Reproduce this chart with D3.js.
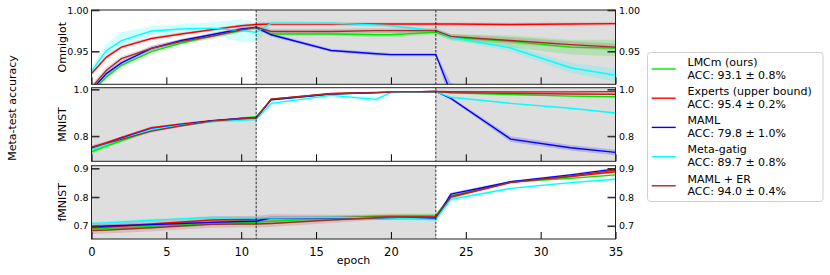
<!DOCTYPE html>
<html>
<head>
<meta charset="utf-8">
<script src="https://cdn.jsdelivr.net/npm/d3@7"></script>
<style>
  body { margin: 0; background: #fff; }
  text { font-family: "DejaVu Sans", sans-serif; fill: #000; }
</style>
</head>
<body>
<svg width="830" height="275"></svg>
<script>
// evaluation epochs (shared by every series)
var epochs = [0, 1, 2, 4, 6, 8, 10, 11, 12, 16, 19, 20, 23, 24, 28, 32, 35];
var taskSwitch = [11, 23];
var xTicks = [0, 5, 10, 15, 20, 25, 30, 35];

var methods = ["LMCm (ours)", "Experts (upper bound)", "MAML", "Meta-gatig", "MAML + ER"];
var accText = ["ACC: 93.1 \u00b1 0.8%", "ACC: 95.4 \u00b1 0.2%", "ACC: 79.8 \u00b1 1.0%", "ACC: 89.7 \u00b1 0.8%", "ACC: 94.0 \u00b1 0.4%"];
var colors = ["#00e600", "#ff0000", "#0000ff", "#00ffff", "#a52a2a"];

// Omniglot
var omniMean = [
  [0.900, 0.919, 0.933, 0.9495, 0.960, 0.968, 0.975, 0.979, 0.971, 0.971, 0.970, 0.970, 0.973, 0.967, 0.962, 0.955, 0.954],
  [0.923, 0.943, 0.955, 0.9655, 0.971, 0.976, 0.981, 0.9825, 0.983, 0.983, 0.983, 0.983, 0.983, 0.983, 0.9825, 0.983, 0.9835],
  [0.903, 0.923, 0.936, 0.9535, 0.963, 0.970, 0.977, 0.979, 0.970, 0.951, 0.947, 0.946, 0.946, 0.900, 0.880, 0.870, 0.860],
  [0.926, 0.951, 0.963, 0.9745, 0.977, 0.978, 0.975, 0.973, 0.984, 0.984, 0.982, 0.981, 0.975, 0.967, 0.954, 0.930, 0.921],
  [0.906, 0.927, 0.941, 0.9535, 0.962, 0.968, 0.976, 0.979, 0.974, 0.974, 0.975, 0.975, 0.975, 0.968, 0.963, 0.958, 0.955]
];
var omniSd = [
  [0.003, 0.003, 0.003, 0.003, 0.002, 0.002, 0.002, 0.002, 0.002, 0.002, 0.003, 0.003, 0.003, 0.004, 0.007, 0.009, 0.010],
  [0.002, 0.002, 0.002, 0.002, 0.002, 0.002, 0.002, 0.002, 0.002, 0.002, 0.002, 0.002, 0.002, 0.002, 0.002, 0.002, 0.002],
  [0.003, 0.003, 0.003, 0.003, 0.002, 0.002, 0.002, 0.002, 0.002, 0.002, 0.002, 0.002, 0.002, 0.012, 0.010, 0.010, 0.010],
  [0.005, 0.008, 0.010, 0.006, 0.006, 0.007, 0.014, 0.012, 0.003, 0.002, 0.002, 0.002, 0.002, 0.003, 0.004, 0.006, 0.008],
  [0.004, 0.004, 0.003, 0.003, 0.003, 0.003, 0.003, 0.003, 0.003, 0.003, 0.003, 0.003, 0.003, 0.003, 0.004, 0.004, 0.004]
];

// MNIST
var mnistMean = [
  [0.733, 0.757, 0.780, 0.826, 0.846, 0.862, 0.877, 0.883, 0.955, 0.980, 0.985, 0.987, 0.990, 0.985, 0.978, 0.971, 0.968],
  [0.750, 0.772, 0.794, 0.836, 0.852, 0.866, 0.875, 0.878, 0.958, 0.982, 0.987, 0.988, 0.991, 0.990, 0.989, 0.989, 0.990],
  [0.747, 0.768, 0.790, 0.830, 0.849, 0.865, 0.875, 0.878, 0.955, 0.980, 0.986, 0.988, 0.991, 0.961, 0.787, 0.750, 0.730],
  [0.743, 0.765, 0.787, 0.828, 0.846, 0.862, 0.868, 0.871, 0.940, 0.974, 0.957, 0.986, 0.990, 0.966, 0.940, 0.919, 0.899],
  [0.752, 0.769, 0.786, 0.821, 0.844, 0.864, 0.874, 0.877, 0.958, 0.981, 0.986, 0.988, 0.991, 0.986, 0.983, 0.980, 0.979]
];
var mnistSd = [
  [0.012, 0.010, 0.008, 0.006, 0.005, 0.005, 0.004, 0.004, 0.003, 0.002, 0.002, 0.002, 0.002, 0.003, 0.003, 0.003, 0.003],
  [0.006, 0.005, 0.005, 0.005, 0.004, 0.004, 0.004, 0.004, 0.002, 0.002, 0.002, 0.002, 0.002, 0.002, 0.002, 0.002, 0.002],
  [0.006, 0.005, 0.005, 0.005, 0.004, 0.004, 0.004, 0.004, 0.002, 0.002, 0.002, 0.002, 0.002, 0.006, 0.012, 0.012, 0.012],
  [0.008, 0.007, 0.006, 0.006, 0.005, 0.005, 0.005, 0.005, 0.006, 0.004, 0.012, 0.003, 0.002, 0.003, 0.003, 0.003, 0.003],
  [0.010, 0.009, 0.008, 0.007, 0.005, 0.004, 0.004, 0.004, 0.002, 0.002, 0.002, 0.002, 0.002, 0.002, 0.002, 0.002, 0.002]
];

// fMNIST
var fmnistMean = [
  [0.689, 0.691, 0.693, 0.698, 0.703, 0.708, 0.711, 0.712, 0.716, 0.726, 0.733, 0.735, 0.737, 0.803, 0.853, 0.865, 0.877],
  [0.693, 0.696, 0.699, 0.706, 0.713, 0.720, 0.722, 0.723, 0.728, 0.728, 0.730, 0.731, 0.731, 0.801, 0.851, 0.871, 0.888],
  [0.697, 0.699, 0.701, 0.704, 0.708, 0.712, 0.715, 0.716, 0.728, 0.728, 0.727, 0.727, 0.726, 0.810, 0.853, 0.877, 0.898],
  [0.708, 0.710, 0.713, 0.719, 0.724, 0.729, 0.728, 0.727, 0.728, 0.729, 0.728, 0.727, 0.722, 0.792, 0.830, 0.850, 0.862],
  [0.683, 0.685, 0.688, 0.693, 0.699, 0.705, 0.706, 0.706, 0.708, 0.720, 0.728, 0.730, 0.731, 0.800, 0.851, 0.873, 0.894]
];
var fmnistSd = [
  [0.008, 0.008, 0.008, 0.008, 0.008, 0.008, 0.008, 0.008, 0.008, 0.008, 0.008, 0.008, 0.006, 0.006, 0.004, 0.004, 0.004],
  [0.012, 0.012, 0.012, 0.012, 0.012, 0.012, 0.012, 0.012, 0.012, 0.010, 0.008, 0.008, 0.006, 0.006, 0.004, 0.004, 0.004],
  [0.006, 0.006, 0.006, 0.006, 0.006, 0.006, 0.006, 0.006, 0.006, 0.006, 0.006, 0.006, 0.006, 0.006, 0.004, 0.004, 0.004],
  [0.006, 0.006, 0.006, 0.006, 0.006, 0.006, 0.006, 0.006, 0.006, 0.006, 0.006, 0.006, 0.006, 0.008, 0.004, 0.004, 0.004],
  [0.012, 0.012, 0.012, 0.012, 0.012, 0.012, 0.012, 0.012, 0.012, 0.010, 0.008, 0.008, 0.006, 0.006, 0.004, 0.004, 0.004]
];

var panelNames = ["Omniglot", "MNIST", "fMNIST"];
var panelMeans = [omniMean, mnistMean, fmnistMean];
var panelSds = [omniSd, mnistSd, fmnistSd];
var panelDomains = [[0.91, 1.0], [0.692, 1.007], [0.654, 0.909]];
var panelYTicks = [[0.95, 1.00], [0.8, 1.0], [0.7, 0.8, 0.9]];
var panelYFormat = [".2f", ".1f", ".1f"];
// shaded (already-seen / future task) spans per panel
var panelShade = [[[11, 35]], [[0, 11], [23, 35]], [[0, 23]]];

window.addEventListener("load", main);

function main() {
  var svg = d3.select("svg");
  var left = 91.5, right = 615.5;
  var panelBox = [[10, 84.3], [87.7, 161.3], [165.7, 239]];

  var x = d3.scaleLinear().domain([0, 35]).range([left, right]);

  panelNames.forEach(function(name, p) {
    var top = panelBox[p][0], bottom = panelBox[p][1];
    var y = d3.scaleLinear().domain(panelDomains[p]).range([bottom, top]);
    var g = svg.append("g");

    g.append("clipPath").attr("id", "clip" + p)
      .append("rect")
      .attr("x", left).attr("y", top)
      .attr("width", right - left).attr("height", bottom - top);

    var plot = g.append("g").attr("clip-path", "url(#clip" + p + ")");

    plot.selectAll("rect.shade")
      .data(panelShade[p])
      .enter().append("rect")
      .attr("class", "shade")
      .attr("x", function(d) { return x(d[0]); })
      .attr("width", function(d) { return x(d[1]) - x(d[0]); })
      .attr("y", top).attr("height", bottom - top)
      .attr("fill", "#dedede");

    var means = panelMeans[p], sds = panelSds[p];

    var area = d3.area()
      .x(function(d, i) { return x(epochs[i]); })
      .y0(function(d) { return y(d[0] - d[1]); })
      .y1(function(d) { return y(d[0] + d[1]); });

    var line = d3.line()
      .x(function(d, i) { return x(epochs[i]); })
      .y(function(d) { return y(d); });

    means.forEach(function(m, s) {
      var pts = m.map(function(v, i) { return [v, sds[s][i]]; });
      plot.append("path")
        .attr("d", area(pts))
        .attr("fill", colors[s])
        .attr("fill-opacity", 0.18)
        .attr("stroke", "none");
    });

    means.forEach(function(m, s) {
      plot.append("path")
        .attr("d", line(m))
        .attr("fill", "none")
        .attr("stroke", colors[s])
        .attr("stroke-width", 1.4);
    });

    // task switch markers
    g.selectAll("line.switch")
      .data(taskSwitch)
      .enter().append("line")
      .attr("x1", function(d) { return x(d); })
      .attr("x2", function(d) { return x(d); })
      .attr("y1", top).attr("y2", bottom)
      .attr("stroke", "#000")
      .attr("stroke-width", 0.8)
      .attr("stroke-dasharray", "2.5,1.5");

    // inward ticks
    var xAxis = d3.axisBottom(x).tickValues(xTicks).tickSizeInner(-7).tickSizeOuter(0)
      .tickFormat(p === 2 ? d3.format("d") : "");
    var xa = g.append("g").attr("transform", "translate(0," + bottom + ")").call(xAxis);
    xa.select(".domain").remove();
    xa.selectAll(".tick line").attr("stroke", "#000").attr("stroke-width", 1);
    xa.selectAll(".tick text")
      .attr("y", 9)
      .attr("dy", "0.71em")
      .style("font-family", "DejaVu Sans")
      .style("font-size", "11.5px");

    var yl = d3.axisLeft(y).tickValues(panelYTicks[p]).tickSizeInner(-8).tickSizeOuter(0)
      .tickPadding(4).tickFormat(d3.format(panelYFormat[p]));
    var ya = g.append("g").attr("transform", "translate(" + left + ",0)").call(yl);
    var yr = d3.axisRight(y).tickValues(panelYTicks[p]).tickSizeInner(-8).tickSizeOuter(0)
      .tickPadding(4).tickFormat(d3.format(panelYFormat[p]));
    var yra = g.append("g").attr("transform", "translate(" + right + ",0)").call(yr);
    [ya, yra].forEach(function(a) {
      a.select(".domain").remove();
      a.selectAll(".tick line").attr("stroke", "#333").attr("stroke-width", 1.6);
      a.selectAll(".tick text")
        .style("font-family", "DejaVu Sans")
        .style("font-size", "9.5px");
    });
    ya.selectAll(".tick text").attr("x", -3);
    yra.selectAll(".tick text").attr("x", 3.5);

    g.append("rect")
      .attr("x", left).attr("y", top)
      .attr("width", right - left).attr("height", bottom - top)
      .attr("fill", "none")
      .attr("stroke", "#222")
      .attr("stroke-width", 1);

    g.append("text")
      .attr("transform", "translate(66," + ((top + bottom) / 2) + ") rotate(-90)")
      .attr("text-anchor", "middle")
      .style("font-size", "11px")
      .text(name);
  });

  svg.append("text")
    .attr("transform", "translate(16,108) rotate(-90)")
    .attr("text-anchor", "middle")
    .style("font-size", "11px")
    .text("Meta-test accuracy");

  svg.append("text")
    .attr("x", x(17.5)).attr("y", 263.5)
    .attr("text-anchor", "middle")
    .style("font-size", "11px")
    .text("epoch");

  // legend
  var leg = svg.append("g");
  leg.append("rect")
    .attr("x", 647.5).attr("y", 52.5)
    .attr("width", 175.5).attr("height", 149)
    .attr("rx", 3)
    .attr("fill", "#fff")
    .attr("stroke", "#d0d0d0")
    .attr("stroke-width", 1);

  var item = leg.selectAll("g.item")
    .data(methods)
    .enter().append("g")
    .attr("class", "item")
    .attr("transform", function(d, i) { return "translate(0," + (69 + i * 29.2) + ")"; });

  item.append("line")
    .attr("x1", 651.7).attr("x2", 675.7)
    .attr("stroke", function(d, i) { return colors[i]; })
    .attr("stroke-width", 1.4);

  item.append("text")
    .attr("x", 687.5).attr("y", -3.3)
    .style("font-size", "11px")
    .text(function(d) { return d; });

  item.append("text")
    .attr("x", 687.5).attr("y", 9.5)
    .style("font-size", "11px")
    .text(function(d, i) { return accText[i]; });
}
</script>
</body>
</html>
